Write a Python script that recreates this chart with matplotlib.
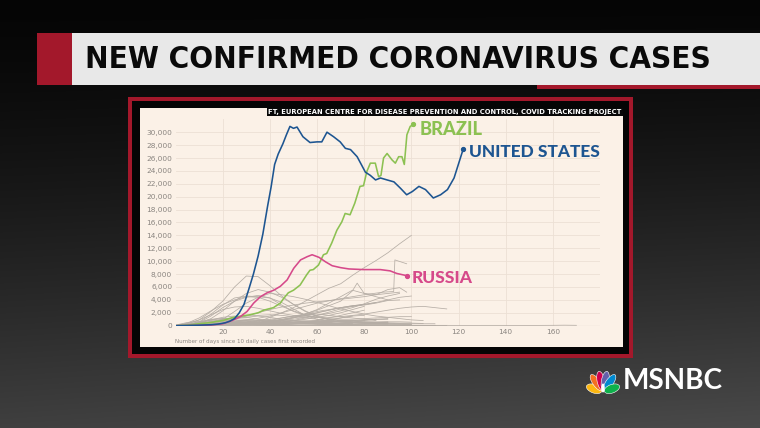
import numpy as np
import matplotlib
matplotlib.use("Agg")
import matplotlib.pyplot as plt
from matplotlib.patches import Rectangle, Ellipse
from matplotlib import font_manager as fm

# ---------------- data (cases in thousands) ----------------
us_days = [0, 5, 10, 15, 18, 21, 23, 25, 27, 29, 31, 33, 35, 37, 39, 40.5, 42, 43.5, 45.5, 47,
           48.5, 50, 51.5, 54, 57, 60, 62, 64.2, 67, 69.8, 72, 74.2, 77, 80.5, 82.6, 84.8, 86.9,
           89.7, 92.6, 95.4, 98, 100.4, 103.2, 106, 109.3, 112.4, 115.3, 118.1, 122]
us_vals = [0, 0.03, 0.08, 0.15, 0.25, 0.45, 0.7, 1.1, 2.0, 3.3, 5.6, 8.0, 10.8, 14.2, 18.5, 21.5,
           25.0, 26.6, 28.2, 29.6, 30.9, 30.6, 30.8, 29.3, 28.4, 28.5, 28.5, 30.0, 29.3, 28.5, 27.5,
           27.3, 26.2, 23.8, 23.3, 22.6, 22.9, 22.6, 22.3, 21.3, 20.3, 20.8, 21.6, 21.1, 19.8, 20.3,
           21.1, 22.9, 27.4]

brazil_days = [0, 5, 10, 15, 20, 24.5, 28, 31.6, 35, 37.3, 41.5, 44.4, 46, 47.8, 50, 52.8, 55.6, 57,
               58.4, 60.6, 62.7, 64.1, 66.2, 68.4, 70.5, 71.9, 74, 76, 78.2, 79.7, 81.1, 82.6, 84.7,
               86.1, 87.1, 88.2, 89.7, 91.8, 93.2, 94.6, 96, 97, 98.1, 99.5, 100.9]
brazil_vals = [0, 0.1, 0.3, 0.5, 0.8, 1.3, 1.5, 1.7, 2.0, 2.4, 2.8, 3.5, 4.3, 5.1, 5.5, 6.3, 7.9, 8.6,
               8.7, 9.4, 11.0, 11.2, 12.8, 14.8, 16.1, 17.4, 17.2, 19.0, 21.6, 21.7, 23.9, 25.2, 25.2,
               23.1, 23.3, 26.0, 26.7, 25.7, 25.2, 26.2, 26.2, 25.0, 29.6, 30.9, 31.2]

russia_days = [0, 5, 10, 15, 20, 24, 27.4, 30.3, 33.1, 36, 38.8, 41.6, 44.4, 47.3, 50.1, 53, 55.8,
               57.9, 60.8, 63.6, 66.4, 70, 73.5, 79.7, 86.8, 91, 93.8, 98.1]
russia_vals = [0, 0.02, 0.05, 0.1, 0.3, 0.8, 1.4, 2.2, 3.5, 4.5, 5.1, 5.5, 6.1, 7.1, 8.9, 10.2, 10.7,
               11.0, 10.6, 9.9, 9.3, 9.0, 8.8, 8.7, 8.7, 8.5, 8.1, 7.75]

# other countries, values every 5 days from day 0 (thousands)
early_peaks = [
    [0, 0.3, 0.9, 2.2, 3.8, 6.0, 7.7, 7.6, 6.2, 4.6, 3.3, 2.2, 1.4, 0.9, 0.6, 0.5, 0.4, 0.35, 0.3, 0.3, 0.25],
    [0, 0.1, 0.4, 1.1, 2.3, 3.8, 5.0, 5.6, 5.2, 4.4, 3.3, 2.3, 1.5, 1.0, 0.8, 0.6, 0.5, 0.5, 0.45, 0.4, 0.4, 0.35],
    [0, 0.1, 0.6, 1.8, 3.2, 4.3, 4.6, 4.5, 4.3, 3.6, 2.6, 1.6, 1.0, 0.7, 0.6, 0.5, 0.5, 0.5, 0.6, 0.6, 0.55],
    [0, 0.05, 0.15, 0.4, 1.0, 2.2, 3.5, 4.4, 5.0, 4.8, 4.5, 4.1, 3.6, 3.1, 2.6, 2.2, 1.8, 1.5, 1.3, 1.1, 0.9, 0.8],
    [0, 0.4, 1.2, 2.3, 3.3, 4.0, 4.5, 4.4, 3.8, 3.0, 2.3, 1.7, 1.3, 1.0, 0.8, 0.7, 0.6, 0.5, 0.5],
    [0, 0.1, 0.5, 1.5, 2.8, 3.8, 4.4, 4.7, 4.3, 3.2, 2.2, 1.6, 1.3, 1.1, 1.0, 1.0, 1.1, 1.2, 1.3, 1.4, 1.4],
    [0, 0.3, 0.9, 1.7, 2.5, 2.9, 3.0, 2.7, 2.3, 1.9, 1.6, 1.4, 1.3, 1.3, 1.4, 1.6, 1.8, 2.1, 2.4, 2.7, 2.9, 3.0, 2.8, 2.6],
    [0, 0.05, 0.2, 0.6, 1.0, 1.3, 1.5, 1.6, 1.7, 1.6, 1.4, 1.2, 1.0, 0.8, 0.6, 0.5, 0.4, 0.4, 0.35, 0.3, 0.3, 0.3, 0.3],
    [0, 0.1, 0.4, 0.9, 1.3, 1.5, 1.3, 1.0, 0.8, 0.6, 0.5, 0.4, 0.3, 0.2, 0.15, 0.1, 0.1, 0.1, 0.1, 0.1, 0.1],
    [0, 0.1, 0.5, 0.9, 1.1, 1.1, 1.0, 0.8, 0.6, 0.4, 0.3, 0.25, 0.2, 0.15, 0.1, 0.1, 0.1, 0.1, 0.1],
    [0, 0.2, 0.6, 1.0, 1.1, 0.9, 0.7, 0.5, 0.3, 0.2, 0.1, 0.1, 0.05, 0.05, 0.05, 0.05, 0.05, 0.05, 0.05, 0.05, 0.05, 0.05, 0.05],
    [0, 0.1, 0.3, 0.6, 1.0, 1.2, 1.3, 1.5, 1.3, 1.0, 0.8, 0.6, 0.4, 0.3, 0.3, 0.3],
    [0, 0.1, 0.4, 0.7, 0.8, 0.7, 0.6, 0.5, 0.4, 0.3, 0.3, 0.3, 0.3, 0.3, 0.3, 0.3, 0.3, 0.3, 0.3],
    [0, 0.1, 0.3, 0.6, 0.8, 0.9, 0.7, 0.5, 0.3, 0.2, 0.1, 0.05, 0.05, 0.05, 0.05, 0.03, 0.03],
    [0, 0.2, 0.6, 0.8, 0.6, 0.3, 0.1, 0.05, 0.05, 0.05, 0.05, 0.05, 0.05, 0.05, 0.05, 0.05, 0.05, 0.05, 0.05, 0.05, 0.05, 0.05, 0.05, 0.05],
    [0, 0.1, 0.25, 0.3, 0.3, 0.25, 0.2, 0.15, 0.12, 0.1, 0.08, 0.06, 0.05, 0.05, 0.05, 0.05, 0.05, 0.05, 0.05, 0.05, 0.05, 0.05, 0.05],
    [0, 0.1, 0.3, 0.5, 0.6, 0.5, 0.3, 0.2, 0.1, 0.05, 0.05, 0.05, 0.1, 0.2, 0.3, 0.5, 0.8, 1.0, 1.1],
    [0.1, 0.5, 0.7, 0.4, 0.15, 0.1, 0.1, 0.08, 0.06, 0.05, 0.03, 0.02, 0.02, 0.02, 0.02, 0.02, 0.02, 0.03,
     0.03, 0.03, 0.04, 0.04, 0.05, 0.05, 0.04, 0.04, 0.05, 0.05, 0.05, 0.04, 0.04, 0.05, 0.06, 0.08, 0.06],
]
late_risers = [
    [0, 0, 0.02, 0.05, 0.1, 0.2, 0.4, 0.6, 1.3, 2.0, 2.8, 3.8, 4.8, 5.8, 6.5, 7.8, 9.0, 10.1, 11.3, 12.7, 14.0],
    [0, 0, 0.02, 0.05, 0.1, 0.2, 0.3, 0.5, 0.7, 1.0, 1.3, 1.6, 2.0, 2.4, 2.8, 3.1, 3.3, 3.6, 4.0, 4.4, 4.6],
    [0, 0.05, 0.1, 0.3, 0.6, 1.0, 1.5, 2.0, 2.5, 2.9, 3.2, 3.5, 3.7, 3.9, 4.1, 4.3, 4.5, 4.8, 5.0, 5.2],
    [0, 0, 0.05, 0.1, 0.2, 0.3, 0.4, 0.5, 0.6, 0.8, 1.0, 1.3, 1.6, 1.9, 2.3, 2.8, 3.4, 4.1, 4.6, 5.0],
    [0, 0, 0.05, 0.1, 0.2, 0.3, 0.5, 0.7, 1.0, 1.2, 1.5, 1.8, 2.2, 2.5, 2.8, 3.0, 3.2, 3.5, 3.9, 4.0],
    [0, 0, 0, 0.02, 0.05, 0.1, 0.2, 0.4, 0.6, 0.9, 1.2, 1.6, 2.0, 2.4, 2.8, 3.1, 3.3],
    [0, 0, 0, 0.05, 0.1, 0.2, 0.3, 0.5, 0.8, 1.2, 1.5, 1.7, 1.8, 1.6, 1.4, 1.2, 1.0, 0.8],
    [0, 0, 0.05, 0.05, 0.1, 0.1, 0.15, 0.2, 0.3, 0.5, 0.8, 1.2, 1.6, 2.1, 2.6, 3.0, 3.3, 3.6],
    [0, 0, 0.05, 0.1, 0.15, 0.2, 0.3, 0.4, 0.5, 0.6, 0.8, 1.0, 1.3, 1.6, 2.0, 2.5, 3.0],
    [0, 0, 0.02, 0.1, 0.3, 0.6, 0.8, 0.9, 0.9, 0.8, 0.7, 0.6, 0.5, 0.4, 0.3, 0.3],
    [0, 0, 0.05, 0.1, 0.3, 0.7, 0.9, 0.8, 0.7, 0.6, 0.5, 0.4, 0.3, 0.3, 0.2, 0.2, 0.2, 0.2, 0.2, 0.2, 0.2],
    [0, 0.05, 0.15, 0.3, 0.4, 0.5, 0.5, 0.5, 0.6, 0.8, 1.2, 1.8, 2.5, 3.5, 4.5, 5.5, 5.0, 4.5, 4.0],
    [0, 0, 0.02, 0.03, 0.04, 0.05, 0.06, 0.08, 0.12, 0.2, 0.3, 0.45, 0.55, 0.45, 0.3, 0.2, 0.1, 0.05, 0.05, 0.05, 0.05, 0.04, 0.04],
    [0, 0.05, 0.1, 0.15, 0.2, 0.3, 0.35, 0.4, 0.4, 0.45, 0.5, 0.5, 0.55, 0.6, 0.7, 0.8, 0.9, 0.95, 1.0],
    [0, 0.1, 0.2, 0.25, 0.2, 0.2, 0.2, 0.2, 0.25, 0.3, 0.3, 0.35, 0.4, 0.5, 0.6, 0.6],
    [0, 0, 0.05, 0.1, 0.2, 0.35, 0.45, 0.55, 0.6, 0.6, 0.7, 0.75, 0.8, 0.7, 0.6, 0.5, 0.45, 0.4, 0.4],
    [0, 0, 0.01, 0.03, 0.05, 0.1, 0.15, 0.2, 0.25, 0.3, 0.4, 0.5, 0.7, 0.9, 1.2, 1.5, 1.6],
    [0, 0.02, 0.1, 0.3, 0.4, 0.45, 0.5, 0.45, 0.45, 0.5, 0.55, 0.6, 0.65, 0.7, 0.8, 0.8],
    [0, 0.05, 0.15, 0.25, 0.3, 0.35, 0.3, 0.3, 0.3, 0.35, 0.4, 0.35, 0.35, 0.4, 0.45, 0.4, 0.35, 0.4],
    [0, 0, 0.05, 0.08, 0.1, 0.1, 0.12, 0.15, 0.2, 0.3, 0.4, 0.6, 0.8, 1.2, 1.6, 2.0, 2.4],
    [0, 0.02, 0.05, 0.1, 0.2, 0.3, 0.5, 0.7, 0.8, 0.9, 0.8, 0.7, 0.7, 0.6, 0.6, 0.6, 0.6, 0.6, 0.6],
    [0, 0.05, 0.1, 0.2, 0.25, 0.3, 0.3, 0.35, 0.4, 0.4, 0.5, 0.5, 0.6, 0.6, 0.7, 0.8, 0.8],
    [0, 0.05, 0.1, 0.15, 0.2, 0.2, 0.2, 0.2, 0.2, 0.25, 0.3, 0.4, 0.5, 0.6, 0.7, 0.8, 0.9, 1.0],
    [0, 0, 0.02, 0.05, 0.1, 0.15, 0.2, 0.2, 0.25, 0.3, 0.35, 0.4, 0.5, 0.8, 1.2, 1.5],
]
jump_days = [0, 10, 20, 30, 40, 50, 60, 70, 80, 88, 92.5, 93, 98]
jump_vals = [0, 0.1, 0.3, 0.8, 1.5, 2.5, 3.5, 4.2, 4.8, 5.2, 5.3, 10.2, 9.6]
spike_days = [0, 10, 20, 30, 40, 50, 60, 70, 75, 77, 80, 85, 90, 95, 98]
spike_vals = [0, 0.05, 0.2, 0.4, 0.6, 1.3, 2.4, 3.8, 5.4, 6.6, 5.0, 4.8, 5.6, 5.9, 5.2]

y_ticks = list(range(0, 30001, 2000))
x_ticks = [20, 40, 60, 80, 100, 120, 140, 160]
title = "NEW CONFIRMED CORONAVIRUS CASES"
source = "FT, EUROPEAN CENTRE FOR DISEASE PREVENTION AND CONTROL, COVID TRACKING PROJECT"
x_label = "Number of days since 10 daily cases first recorded"

# ---------------- fonts ----------------
def font_file(**kw):
    try:
        return fm.findfont(fm.FontProperties(**kw), fallback_to_default=False)
    except Exception:
        return ""

cond_props = dict(family="DejaVu Sans", weight="bold")
f = font_file(family="DejaVu Sans", weight="bold", stretch="condensed")
if "Condensed" in f:
    cond_props = dict(family="DejaVu Sans", weight="bold", stretch="condensed")
else:
    for fam, wt in [("Roboto", "black"), ("Roboto", "bold")]:
        ff = font_file(family=fam, weight=wt)
        if ff and "Roboto" in ff:
            cond_props = dict(family=fam, weight=wt)
            break
heavy = "Lato" if "Lato" in font_file(family="Lato", weight="black") else "DejaVu Sans"

W, H = 760, 428
fig = plt.figure(figsize=(W / 100, H / 100), dpi=100)
bg = fig.add_axes([0, 0, 1, 1])
bg.set_xlim(0, W)
bg.set_ylim(H, 0)
bg.axis("off")

yy, xx = np.mgrid[0:H, 0:W]
v = 0.02 + 0.23 * (yy / H) ** 1.4 + 0.04 * (xx / W) * (yy / H)
img = np.dstack([v, v, v])
bg.imshow(img, extent=(0, W, H, 0), aspect="auto", zorder=0, interpolation="bilinear")

def rect(x0, y0, x1, y1, color, z=1):
    bg.add_patch(Rectangle((x0, y0), x1 - x0, y1 - y0, facecolor=color, edgecolor="none", zorder=z))

# title bar
rect(72, 33, 760, 85, "#e8e8e8")
rect(37, 33, 72, 85, "#a3182b")
rect(537, 85, 760, 89, "#a3182b")
t_title = bg.text(85, 59, title, ha="left", va="center", color="#0a0a0a", fontsize=26,
                  zorder=3, **cond_props)

# chart frame
rect(128, 97, 633, 358, "#a3182b")
rect(132, 101, 629, 354, "#050505")
rect(140, 108, 623, 347, "#fbf1e7")
rect(267, 108, 623, 116, "#080808", z=3)
t_src = bg.text(445, 112.3, source, ha="center", va="center", color="white", fontsize=5.5,
                zorder=4, **cond_props)
t_xl = bg.text(175, 341.5, x_label, ha="left", va="center", color="#8a8580", fontsize=4.5, zorder=4)

# MSNBC logo
feather_cols = ["#fcb711", "#f37021", "#cc004c", "#6460aa", "#0089d0", "#0db14b"]
angles = [160, 125, 101, 79, 55, 20]
bx, by = 603, 392
for c, a in zip(feather_cols, angles):
    r = np.deg2rad(a)
    side = a in (160, 20)
    L = 9.5 if side else 11.5
    cx, cy = bx + L * np.cos(r), by - L * np.sin(r)
    bg.add_patch(Ellipse((cx, cy), 16 if side else 19, 8.5 if side else 7.5, angle=-a,
                         facecolor=c, edgecolor="white", linewidth=0.4, zorder=3))
bg.add_patch(Ellipse((bx, by - 4), 3.5, 9, facecolor="white", edgecolor="none", zorder=4))
t_ms = bg.text(623, 381, "MSNBC", ha="left", va="center", color="white", fontsize=16,
               fontweight="bold", family=heavy, zorder=4)

# ---------------- chart ----------------
ax = fig.add_axes([175.6 / W, (H - 325.7) / H, 424.4 / W, 206.4 / H])
ax.set_facecolor("none")
ax.set_xlim(0, 180)
ax.set_ylim(0, 32000)
for s in ax.spines.values():
    s.set_visible(False)
ax.set_yticks(y_ticks)
ax.set_yticklabels([f"{t:,}" for t in y_ticks])
ax.set_xticks(x_ticks)
ax.tick_params(length=0, labelsize=5.3, colors="#8a8580", pad=2.5)
ax.grid(True, color="#ece0d4", linewidth=0.6)
ax.set_axisbelow(True)
ax.axhline(0, color="#b5aea8", linewidth=0.8, zorder=2)

grid_days = np.arange(0, 200, 5)
gray = "#b5ada5"
for vals in early_peaks + late_risers:
    ax.plot(grid_days[:len(vals)], np.array(vals) * 1000, color=gray, lw=0.55, zorder=2)
ax.plot(jump_days, np.array(jump_vals) * 1000, color=gray, lw=0.55, zorder=2)
ax.plot(spike_days, np.array(spike_vals) * 1000, color=gray, lw=0.55, zorder=2)

series = [(brazil_days, brazil_vals, "#8cc152", "BRAZIL", 103.3, 30400),
          (russia_days, russia_vals, "#d6498a", "RUSSIA", 100.3, 7400),
          (us_days, us_vals, "#1d5591", "UNITED STATES", 124.5, 27000)]
lab_w = {"BRAZIL": 63, "RUSSIA": 61, "UNITED STATES": 131}
labels = []
for d, vv, c, name, lx, ly in series:
    vv = np.array(vv) * 1000
    ax.plot(d, vv, color=c, lw=1.15, zorder=4, solid_joinstyle="round")
    ax.plot([d[-1]], [vv[-1]], "o", color=c, ms=2.8, zorder=5)
    labels.append((ax.text(lx, ly, name, color=c, fontsize=12.5, fontweight="black",
                           family=heavy, ha="left", va="center", zorder=6), lab_w[name]))

# fit text widths to the reference
fig.canvas.draw()
rend = fig.canvas.get_renderer()
for t, w in [(t_title, 627), (t_src, 350), (t_ms, 100), (t_xl, 140)] + labels:
    bb = t.get_window_extent(rend)
    t.set_fontsize(t.get_fontsize() * w / bb.width)

fig.savefig("out.png", dpi=100)
